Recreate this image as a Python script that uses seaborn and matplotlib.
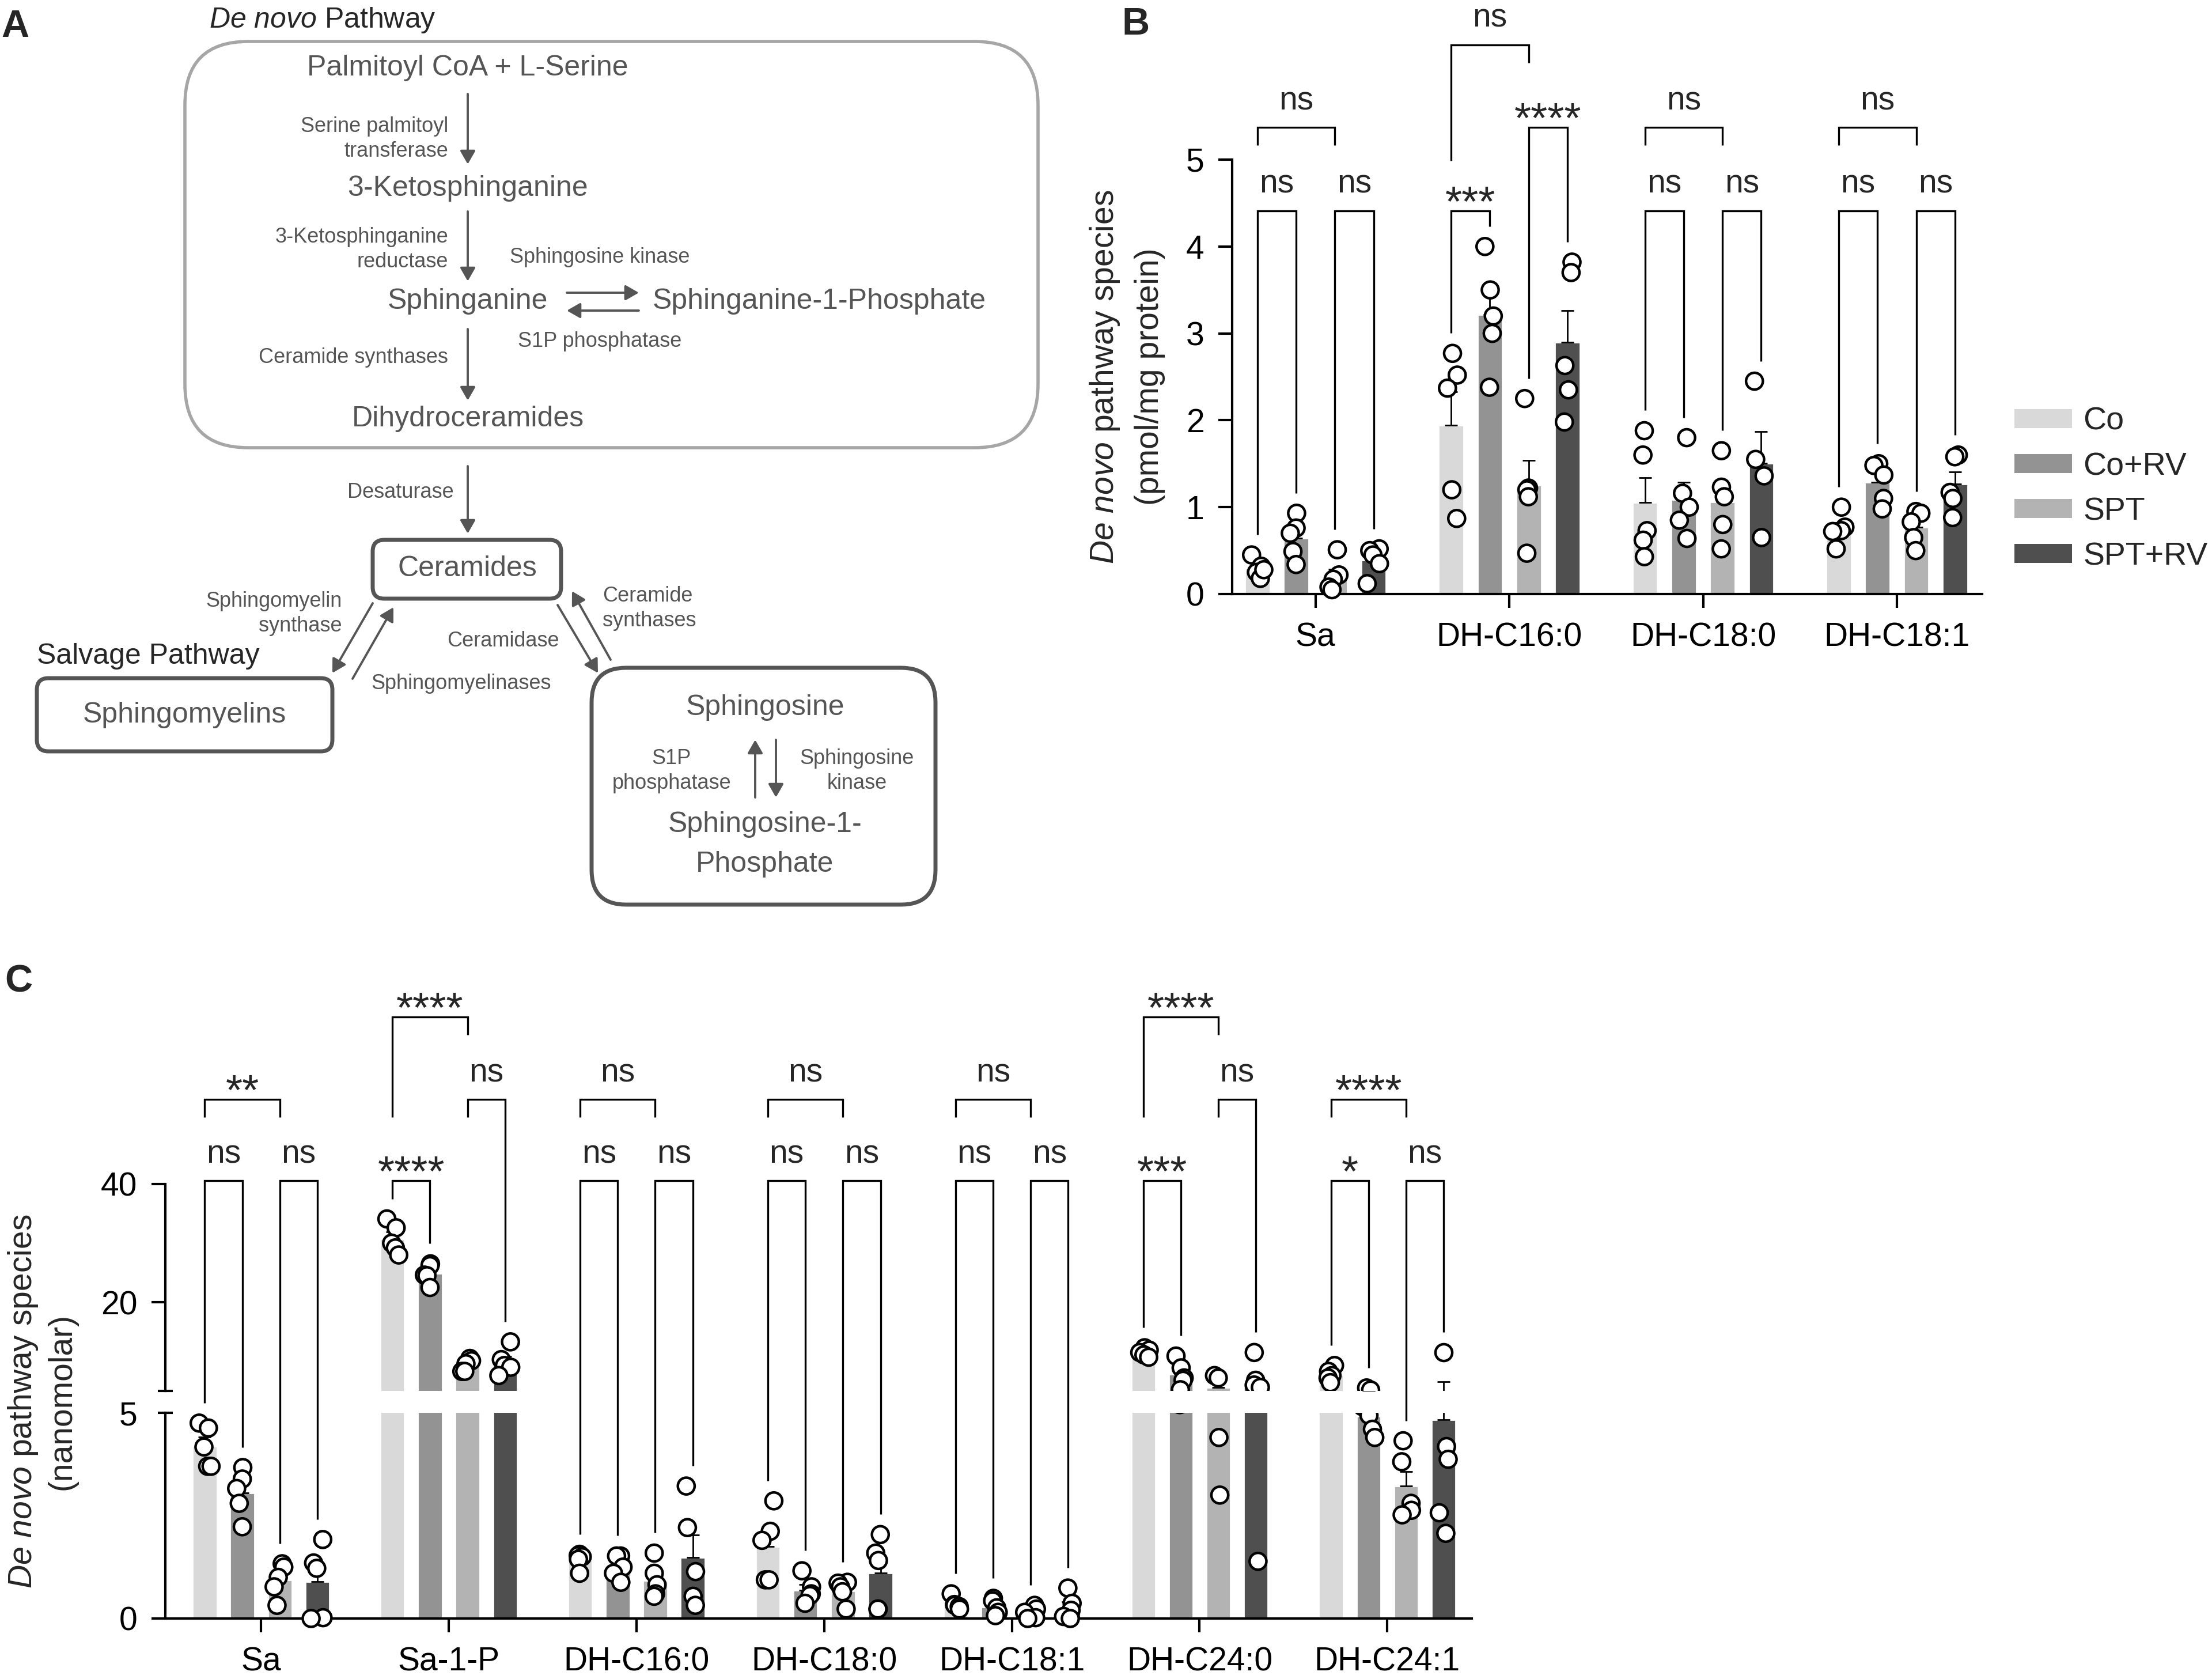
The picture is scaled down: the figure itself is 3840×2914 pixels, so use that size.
import warnings
import numpy as np
import pandas as pd
import seaborn as sns
import matplotlib
import matplotlib.pyplot as plt
from matplotlib.patches import FancyBboxPatch, Patch
from matplotlib.transforms import Bbox, TransformedBbox

warnings.filterwarnings("ignore")

# ---------------- data ----------------
treatments = ["Co", "Co+RV", "SPT", "SPT+RV"]
bar_colors = ["#d9d9d9", "#939393", "#b3b3b3", "#4f4f4f"]

# panel B (pmol/mg protein), one list per treatment
species_b = ["Sa", "DH-C16:0", "DH-C18:0", "DH-C18:1"]
b_sa = [[0.45, 0.32, 0.25, 0.18, 0.28],
        [0.93, 0.76, 0.70, 0.49, 0.34],
        [0.51, 0.22, 0.17, 0.08, 0.05],
        [0.52, 0.50, 0.45, 0.35, 0.12]]
b_c16 = [[2.77, 2.52, 2.37, 1.20, 0.87],
         [4.00, 3.50, 3.20, 3.00, 2.38],
         [2.25, 1.22, 1.20, 1.12, 0.47],
         [3.82, 3.70, 2.63, 2.35, 1.98]]
b_c18 = [[1.88, 1.60, 0.73, 0.62, 0.43],
         [1.80, 1.16, 1.00, 0.85, 0.64],
         [1.65, 1.23, 1.12, 0.80, 0.52],
         [2.45, 1.55, 1.36, 0.65]]
b_c181 = [[1.00, 0.77, 0.73, 0.72, 0.52],
          [1.50, 1.48, 1.37, 1.10, 0.98],
          [0.95, 0.93, 0.83, 0.65, 0.50],
          [1.60, 1.58, 1.17, 1.10, 0.88]]

# panel C (nanomolar)
species_c = ["Sa", "Sa-1-P", "DH-C16:0", "DH-C18:0", "DH-C18:1", "DH-C24:0", "DH-C24:1"]
c_sa = [[4.75, 4.63, 4.17, 3.70, 3.70],
        [3.67, 3.39, 3.16, 2.80, 2.23],
        [1.33, 1.25, 1.00, 0.77, 0.32],
        [1.92, 1.35, 1.22, 0.02, 0.00]]
c_sa1p = [[34.1, 32.6, 30.0, 29.2, 28.0],
          [26.5, 26.2, 24.6, 24.5, 22.5],
          [10.5, 10.1, 9.6, 8.3, 8.3],
          [13.3, 10.3, 9.3, 9.0, 7.6]]
c_c16 = [[1.56, 1.53, 1.50, 1.44, 1.10],
         [1.52, 1.52, 1.25, 1.10, 0.88],
         [1.59, 1.10, 0.82, 0.60, 0.54],
         [3.22, 2.21, 1.14, 0.54, 0.32]]
c_c18 = [[2.86, 2.12, 1.90, 0.94, 0.94],
         [1.16, 0.77, 0.60, 0.56, 0.37],
         [0.88, 0.86, 0.77, 0.65, 0.23],
         [2.04, 1.59, 1.41, 0.23, 0.23]]
c_c181 = [[0.60, 0.34, 0.32, 0.29, 0.23],
          [0.49, 0.43, 0.26, 0.15, 0.07],
          [0.32, 0.23, 0.15, 0.02, 0.00],
          [0.74, 0.37, 0.20, 0.05, 0.00]]
c_c24 = [[12.3, 11.9, 11.5, 11.1, 10.7],
         [10.9, 8.9, 7.2, 6.8, 5.2],
         [7.6, 7.2, 4.4, 3.0],
         [11.5, 6.8, 6.0, 5.6, 1.39]]
c_c241 = [[9.3, 8.3, 7.6, 7.2, 6.4],
          [5.5, 5.15, 4.94, 4.6, 4.4],
          [4.32, 3.81, 2.80, 2.63, 2.52],
          [11.5, 4.18, 3.87, 2.57, 2.07]]

b_values = [b_sa, b_c16, b_c18, b_c181]
c_values = [c_sa, c_sa1p, c_c16, c_c18, c_c181, c_c24, c_c241]

# significance brackets: (species idx, bar i, bar j, level, label, leg i, leg j)
# leg "d" = down to the data, number = short leg length in px
brackets_b = [
    (0, 0, 1, 0, "ns", "d", "d"), (0, 2, 3, 0, "ns", "d", "d"), (0, 0, 2, 1, "ns", 31, 31),
    (1, 0, 1, 0, "***", "d", "d"), (1, 2, 3, 1, "****", "d", "d"), (1, 0, 2, 2, "ns", 201, 31),
    (2, 0, 1, 0, "ns", "d", "d"), (2, 2, 3, 0, "ns", "d", "d"), (2, 0, 2, 1, "ns", 31, 31),
    (3, 0, 1, 0, "ns", "d", "d"), (3, 2, 3, 0, "ns", "d", "d"), (3, 0, 2, 1, "ns", 31, 31),
]
levels_b = [4.41, 5.37, 6.32]

brackets_c = [
    (0, 0, 1, 0, "ns", "d", "d"), (0, 2, 3, 0, "ns", "d", "d"), (0, 0, 2, 1, "**", 31, 31),
    (1, 0, 1, 0, "****", "d", "d"), (1, 2, 3, 1, "ns", 31, "d"), (1, 0, 2, 2, "****", 174, 31),
    (2, 0, 1, 0, "ns", "d", "d"), (2, 2, 3, 0, "ns", "d", "d"), (2, 0, 2, 1, "ns", 31, 31),
    (3, 0, 1, 0, "ns", "d", "d"), (3, 2, 3, 0, "ns", "d", "d"), (3, 0, 2, 1, "ns", 31, 31),
    (4, 0, 1, 0, "ns", "d", "d"), (4, 2, 3, 0, "ns", "d", "d"), (4, 0, 2, 1, "ns", 31, 31),
    (5, 0, 1, 0, "***", "d", "d"), (5, 2, 3, 1, "ns", 31, "d"), (5, 0, 2, 2, "****", 174, 31),
    (6, 0, 1, 0, "*", "d", "d"), (6, 2, 3, 0, "ns", "d", "d"), (6, 0, 2, 1, "****", 31, 31),
]
levels_c = [40.58, 54.33, 68.32]


def to_long(species, values):
    rows = []
    for sp, groups in zip(species, values):
        for trt, pts in zip(treatments, groups):
            for v in pts:
                rows.append((sp, trt, v))
    return pd.DataFrame(rows, columns=["species", "group", "value"])


df_b = to_long(species_b, b_values)
df_c = to_long(species_c, c_values)

# ---------------- style ----------------
W, H = 3840, 2914
sns.set_style("ticks")
plt.rcParams["font.family"] = ["Liberation Sans", "DejaVu Sans"]
plt.rcParams["mathtext.fontset"] = "custom"
plt.rcParams["mathtext.rm"] = "Liberation Sans"
plt.rcParams["mathtext.it"] = "Liberation Sans:italic"
plt.rcParams["mathtext.bf"] = "Liberation Sans:bold"
plt.rcParams["axes.linewidth"] = 1.5
plt.rcParams["axes.edgecolor"] = "black"
plt.rcParams["xtick.color"] = "black"
plt.rcParams["ytick.color"] = "black"

fig = plt.figure(figsize=(W / 200, H / 200), dpi=200)
offsets = [-0.3, -0.1, 0.1, 0.3]


def rect(x0, y0, x1, y1):
    return [x0 / W, 1 - y1 / H, (x1 - x0) / W, (y1 - y0) / H]


def draw_bars(ax, df, order, dots):
    sns.barplot(data=df, x="species", y="value", hue="group", order=order,
                hue_order=treatments, palette=bar_colors, saturation=1,
                errorbar=None, gap=0.35, legend=False, ax=ax, zorder=1)
    sem = df.groupby(["group", "species"])["value"].sem()
    for cont, trt in zip(ax.containers, treatments):
        for bar in cont:
            xc = bar.get_x() + bar.get_width() / 2
            sp = order[int(round(xc))]
            ax.errorbar(xc, bar.get_height(), yerr=[[0], [sem[(trt, sp)]]], fmt="none",
                        ecolor="black", elinewidth=1, capsize=4, capthick=1, zorder=2)
    np.random.seed(7)  # fixed horizontal jitter of the dots
    sns.stripplot(data=dots, x="species", y="value", hue="group", order=order,
                  hue_order=treatments, dodge=True, jitter=0.14, palette=["white"] * 4,
                  edgecolor="black", linewidth=1.6, size=10.5, legend=False, ax=ax, zorder=3)
    ax.set_xlabel("")
    ax.set_ylabel("")


def loosen_bottom_clip(ax):
    box = TransformedBbox(Bbox([[-0.05, -0.2], [1.05, 1.0]]), ax.transAxes)
    for coll in ax.collections:
        coll.set_clip_box(box)


tick_kw = dict(length=8.5, width=1.5, labelsize=20.5, pad=9, direction="out")

# ---------------- panel B ----------------
ax_b = fig.add_axes(rect(2139, 277, 3441, 1031))
draw_bars(ax_b, df_b, species_b, df_b)
ax_b.set_xlim(-0.43, 3.44)
ax_b.set_ylim(0, 5)
ax_b.set_yticks([0, 1, 2, 3, 4, 5])
ax_b.tick_params(**tick_kw)
sns.despine(ax=ax_b)
loosen_bottom_clip(ax_b)

handles = [Patch(facecolor=c, edgecolor="none") for c in bar_colors]
ax_b.legend(handles, treatments, loc="upper left", bbox_to_anchor=(3497 / W, 1 - 706 / H),
            bbox_transform=fig.transFigure, frameon=False, fontsize=20,
            handlelength=1.8, handleheight=0.55, handletextpad=0.35,
            labelspacing=0.47, borderpad=0, borderaxespad=0)

# ---------------- panel C (broken axis) ----------------
ax_hi = fig.add_axes(rect(287, 2055, 2555, 2414))
ax_lo = fig.add_axes(rect(287, 2452, 2555, 2809))
draw_bars(ax_hi, df_c, species_c, df_c[df_c["value"] >= 5])
draw_bars(ax_lo, df_c, species_c, df_c)
for ax in (ax_hi, ax_lo):
    ax.set_xlim(-0.51, 6.45)
    ax.tick_params(**tick_kw)

ax_hi.set_ylim(5, 40)
ax_hi.set_yticks([5, 20, 40])
ax_hi.set_yticklabels(["", "20", "40"])
ax_hi.tick_params(axis="x", bottom=False, labelbottom=False)
for s in ("top", "right", "bottom"):
    ax_hi.spines[s].set_visible(False)

ax_lo.set_ylim(0, 5)
ax_lo.set_yticks([0, 5])
sns.despine(ax=ax_lo)
loosen_bottom_clip(ax_lo)

# break marks: centred dashes on the spine
ax_hi.yaxis.get_major_ticks()[0].tick1line.set_marker("_")
ax_hi.yaxis.get_major_ticks()[0].tick1line.set_markersize(9.5)
ax_lo.yaxis.get_major_ticks()[1].tick1line.set_marker("_")
ax_lo.yaxis.get_major_ticks()[1].tick1line.set_markersize(9.5)

# ---------------- overlay (diagram, brackets, labels) ----------------
ov = fig.add_axes([0, 0, 1, 1], zorder=10)
ov.set_xlim(0, W)
ov.set_ylim(H, 0)
ov.axis("off")


def to_px(ax, x, y):
    X, Y = ax.transData.transform((x, y))
    return X, H - Y


def draw_brackets(brackets, levels, values, pick_ax):
    for g, i, j, lev, label, leg_i, leg_j in brackets:
        lvl = levels[lev]
        ax = pick_ax(lvl)
        X1, Yl = to_px(ax, g + offsets[i], lvl)
        X2, _ = to_px(ax, g + offsets[j], lvl)
        ends = []
        for k, leg in ((i, leg_i), (j, leg_j)):
            if leg == "d":
                top = max(values[g][k])
                _, Yd = to_px(pick_ax(top), g + offsets[k], top)
                ends.append(Yd - 35)
            else:
                ends.append(Yl + leg)
        ov.plot([X1, X1, X2, X2], [ends[0], Yl, Yl, ends[1]], color="black", lw=1.2,
                solid_joinstyle="miter", solid_capstyle="butt")
        if label == "ns":
            ov.text((X1 + X2) / 2, Yl - 31, label, ha="center", va="baseline", fontsize=20.5)
        else:
            ov.text((X1 + X2) / 2, Yl + 9, label, ha="center", va="baseline", fontsize=27)


draw_brackets(brackets_b, levels_b, b_values, lambda v: ax_b)
draw_brackets(brackets_c, levels_c, c_values, lambda v: ax_hi if v >= 5 else ax_lo)

# y labels
ov.text(1918, 654, r"$\mathit{De\ novo}$ pathway species", rotation=90,
        ha="center", va="center", fontsize=20.5)
ov.text(1996, 654, "(pmol/mg protein)", rotation=90, ha="center", va="center", fontsize=20.5)
ov.text(40, 2432, r"$\mathit{De\ novo}$ pathway species", rotation=90,
        ha="center", va="center", fontsize=20.5)
ov.text(107, 2432, "(nanomolar)", rotation=90, ha="center", va="center", fontsize=20.5)

# panel letters
for lx, ly, letter in ((2, 16, "A"), (1947, 12, "B"), (8, 1673, "C")):
    ov.text(lx, ly, letter, ha="left", va="top", fontsize=24, fontweight="bold")

# ---------------- panel A diagram ----------------
grey = "#555555"


def box(x0, y0, x1, y1, r, ec, lw):
    ov.add_patch(FancyBboxPatch((x0, y0), x1 - x0, y1 - y0,
                                boxstyle=f"round,pad=0,rounding_size={r}",
                                fc="none", ec=ec, lw=lw))


def arrow(x0, y0, x1, y1):
    ov.annotate("", xy=(x1, y1), xytext=(x0, y0),
                arrowprops=dict(arrowstyle="-|>,head_length=0.35,head_width=0.2",
                                mutation_scale=20, lw=1.4, color=grey,
                                shrinkA=0, shrinkB=0))


def big(x, y, s, ha="center", color=grey):
    ov.text(x, y, s, ha=ha, va="center", fontsize=18, color=color)


def small(x, y, s, ha="center"):
    ov.text(x, y, s, ha=ha, va="center", fontsize=13, color=grey,
            linespacing=1.3, multialignment=ha)


box(321, 72, 1802, 777, 110, "#a6a6a6", 2)
box(647, 937, 974, 1039, 20, grey, 2.5)
box(64, 1177, 577, 1304, 20, grey, 2.5)
box(1027, 1159, 1624, 1570, 60, grey, 2.5)

ov.text(363, 35, r"$\mathit{De\ novo}$ Pathway", ha="left", va="center", fontsize=18)
ov.text(64, 1139, "Salvage Pathway", ha="left", va="center", fontsize=18)

big(812, 118, "Palmitoyl CoA + L-Serine")
big(812, 327, "3-Ketosphinganine")
big(812, 523, "Sphinganine")
big(1133, 523, "Sphinganine-1-Phosphate", ha="left")
big(812, 727, "Dihydroceramides")
big(811, 987, "Ceramides")
big(320, 1241, "Sphingomyelins")
big(1328, 1228, "Sphingosine")
big(1328, 1431, "Sphingosine-1-")
big(1328, 1500, "Phosphate")

small(778, 241, "Serine palmitoyl\ntransferase", ha="right")
small(778, 433, "3-Ketosphinganine\nreductase", ha="right")
small(885, 446, "Sphingosine kinase", ha="left")
small(899, 593, "S1P phosphatase", ha="left")
small(778, 620, "Ceramide synthases", ha="right")
small(788, 855, "Desaturase", ha="right")
small(594, 1065, "Sphingomyelin\nsynthase", ha="right")
small(644, 1186, "Sphingomyelinases", ha="left")
small(873, 1112, "Ceramidase")
small(1046, 1056, "Ceramide\nsynthases", ha="left")
small(1166, 1338, "S1P\nphosphatase")
small(1488, 1338, "Sphingosine\nkinase")

arrow(812, 163, 812, 285)
arrow(812, 367, 812, 488)
arrow(812, 571, 812, 695)
arrow(812, 809, 812, 926)
arrow(984, 508, 1109, 508)
arrow(1109, 539, 984, 539)
arrow(647, 1047, 577, 1168)
arrow(612, 1178, 683, 1054)
arrow(968, 1050, 1038, 1168)
arrow(1060, 1145, 993, 1026)
arrow(1311, 1384, 1311, 1284)
arrow(1347, 1284, 1347, 1384)

fig.savefig("out.png", dpi=200, facecolor="white")
